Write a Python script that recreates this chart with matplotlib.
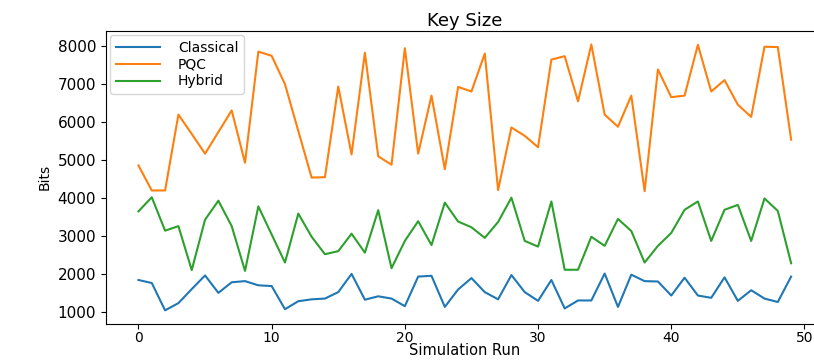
import matplotlib
matplotlib.use('Agg')
import matplotlib.pyplot as plt

runs = list(range(50))
classical = [1840, 1760, 1040, 1230, 1600, 1960, 1500, 1780, 1810, 1700,
             1680, 1070, 1280, 1330, 1350, 1520, 2000, 1320, 1410, 1350,
             1150, 1930, 1950, 1130, 1590, 1890, 1520, 1330, 1970, 1520,
             1290, 1840, 1090, 1300, 1300, 2010, 1130, 1980, 1810, 1800,
             1430, 1900, 1430, 1370, 1910, 1290, 1570, 1350, 1260, 1930]
pqc = [4860, 4200, 4200, 6200, 5690, 5170, 5740, 6310, 4930, 7860,
       7750, 7000, 5770, 4540, 4550, 6940, 5150, 7830, 5100, 4880,
       7950, 5170, 6700, 4760, 6930, 6810, 7810, 4210, 5860, 5640,
       5340, 7650, 7740, 6550, 8050, 6200, 5880, 6700, 4180, 7390,
       6660, 6700, 8040, 6810, 7110, 6460, 6140, 7990, 7980, 5540]
hybrid = [3650, 4020, 3140, 3260, 2100, 3430, 3930, 3260, 2080, 3780,
          3040, 2300, 3590, 2980, 2520, 2600, 3060, 2560, 3680, 2150,
          2870, 3390, 2760, 3880, 3380, 3230, 2950, 3370, 4010, 2870,
          2720, 3910, 2110, 2110, 2980, 2740, 3450, 3130, 2300, 2740,
          3080, 3690, 3910, 2870, 3690, 3820, 2870, 3990, 3660, 2280]

fig = plt.figure(figsize=(8.14, 3.62), dpi=100)
ax = fig.add_axes([0.130, 0.106, 0.882, 0.808])
ax.plot(runs, classical, label='Classical')
ax.plot(runs, pqc, label='PQC')
ax.plot(runs, hybrid, label='Hybrid')
ax.set_title('Key Size', fontsize=13, pad=4)
ax.set_xlabel('Simulation Run', fontsize=10.5, labelpad=-1)
ax.set_ylabel('Bits', fontsize=10)
ax.tick_params(axis='y', labelsize=11)
ax.tick_params(axis='x', labelsize=10, pad=1.5)
ax.legend(loc='upper left', fontsize=10, handlelength=3.2,
          handletextpad=1.3, labelspacing=0.2, borderaxespad=0.3)
fig.savefig('out.png', dpi=100)
